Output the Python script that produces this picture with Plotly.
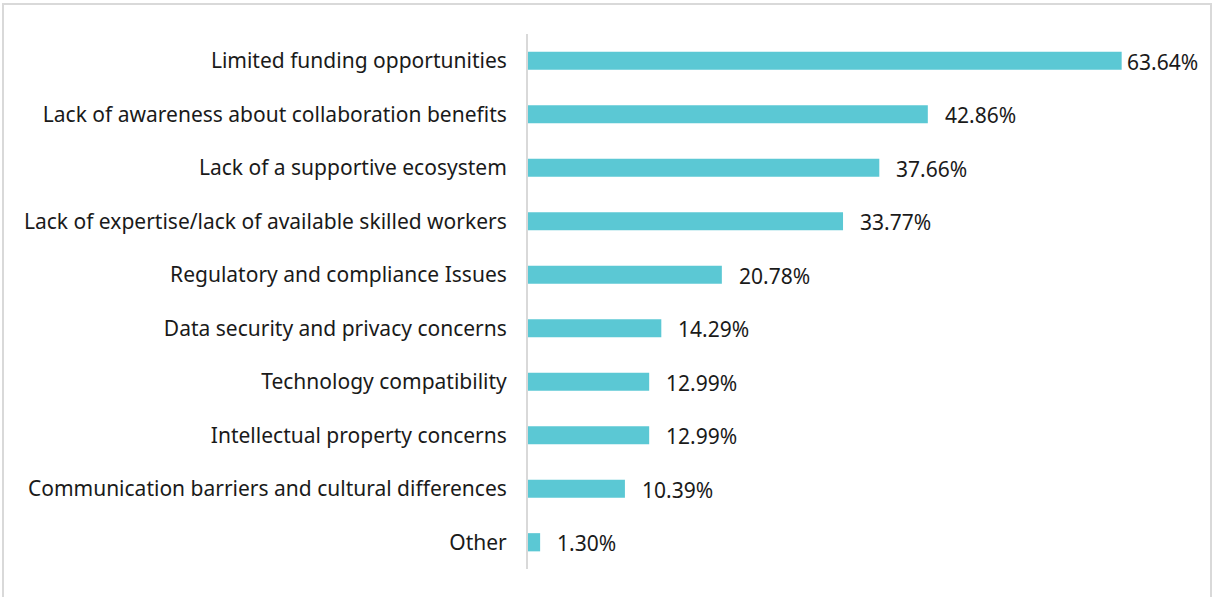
import plotly.graph_objects as go

categories = [
    "Limited funding opportunities",
    "Lack of awareness about collaboration benefits",
    "Lack of a supportive ecosystem",
    "Lack of expertise/lack of available skilled workers",
    "Regulatory and compliance Issues",
    "Data security and privacy concerns",
    "Technology compatibility",
    "Intellectual property concerns",
    "Communication barriers and cultural differences",
    "Other",
]
values = [63.64, 42.86, 37.66, 33.77, 20.78, 14.29, 12.99, 12.99, 10.39, 1.30]
label_shift = [3, 15, 15, 15, 15, 15, 15, 15, 15, 15]

BAR = "#5BC8D4"
FONT = "Noto Sans, Open Sans, sans-serif"

fig = go.Figure()
fig.add_trace(go.Bar(
    y=categories, x=values, orientation="h",
    marker=dict(color=BAR, line=dict(width=0)),
    width=0.34, hoverinfo="skip",
))

for c, v, s in zip(categories, values, label_shift):
    fig.add_annotation(x=v, y=c, text=f"{v:.2f}%", showarrow=False,
                       xanchor="left", xshift=s, yshift=-1,
                       font=dict(family=FONT, size=21, color="#1a1a1a"))

W, H = 1212, 597
L, R, T, B = 528, 31, 34, 28
pw, ph = W - L - R, H - T - B

def px(x):
    return (x - L) / pw

def py(y):
    return (H - B - y) / ph

fig.add_shape(type="rect", xref="paper", yref="paper",
              x0=px(3), x1=px(1211), y0=py(600), y1=py(4),
              line=dict(color="#d9d9d9", width=2), fillcolor="rgba(0,0,0,0)", layer="below")

fig.update_layout(
    width=W, height=H,
    margin=dict(l=L, r=R, t=T, b=B),
    paper_bgcolor="white", plot_bgcolor="white",
    showlegend=False,
    font=dict(family=FONT, size=21, color="#1a1a1a"),
    xaxis=dict(range=[0, 70], showgrid=False, zeroline=False, showticklabels=False,
               showline=False, fixedrange=True),
    yaxis=dict(autorange="reversed", showgrid=False, zeroline=False,
               showline=True, linecolor="#d9d9d9", linewidth=2,
               ticks="", ticklabelstandoff=15,
               tickfont=dict(family=FONT, size=21, color="#1a1a1a")),
)

fig.write_html("out.html", config={"displayModeBar": False},
               post_script="document.body.style.margin='0';document.body.style.padding='0';")
